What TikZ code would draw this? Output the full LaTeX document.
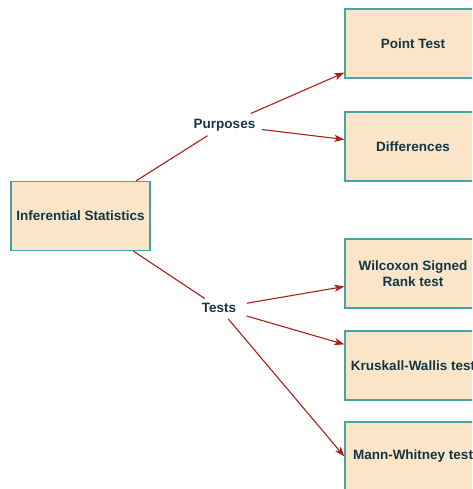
\documentclass[tikz,border=0pt]{standalone}
\usepackage{fontspec}
\setmainfont{Liberation Sans}
\definecolor{BoxFill}{RGB}{250,229,200}
\definecolor{BoxLine}{RGB}{70,165,162}
\definecolor{TextColor}{RGB}{20,54,66}
\definecolor{ArrowColor}{RGB}{168,32,26}
\usepackage{tikz}
\usetikzlibrary{arrows.meta}

\tikzset{
  statbox/.style={draw=BoxLine, fill=BoxFill, line width=1.2pt, minimum width=136pt, minimum height=69pt, align=center, text=TextColor, font=\fontsize{13.5}{16}\selectfont\bfseries},
  branch/.style={text=TextColor, inner sep=4.5pt, font=\fontsize{13.5}{16}\selectfont\bfseries},
  link/.style={draw=ArrowColor, line width=1.1pt},
  pointer/.style={link, -{Stealth[length=10pt, width=7pt, inset=2.5pt]}}
}

\begin{document}
\begin{tikzpicture}[x=1pt, y=-1pt]
          \useasboundingbox (0,0) rectangle (472,489);
          \clip (0,0) rectangle (472,489);
          % root and the two branch labels
          \node[statbox, minimum width=139pt] (infer) at (80.5,216) {Inferential Statistics};
          \node[branch] (purp) at (224.5,125) {Purposes};
          \node[branch] (tests) at (219,308) {Tests};
          % right column
          \node[statbox] (point) at (413,43.5) {Point Test};
          \node[statbox] (diff) at (413,146.5) {Differences};
          \node[statbox] (wilc) at (413,273.5) {Wilcoxon Signed\\Rank test};
          \node[statbox] (krus) at (413,365.5) {Kruskall-Wallis test};
          \node[statbox] (mann) at (413,456.5) {Mann-Whitney test};
          % connectors
          \draw[link] (infer) -- (purp);
          \draw[link] (infer) -- (tests);
          \draw[pointer, shorten <=2pt] (purp) -- ([yshift=6pt]point.south west);
          \draw[pointer, shorten <=2pt] (purp) -- ([yshift=7pt]diff.west);
          \draw[pointer, shorten <=6pt] (tests) -- ([yshift=-13pt]wilc.west);
          \draw[pointer, shorten <=6pt] (tests) -- ([yshift=-14pt]krus.north west);
          \draw[pointer, shorten <=2pt] (tests) -- (mann.west);
        \end{tikzpicture}
\end{document}
